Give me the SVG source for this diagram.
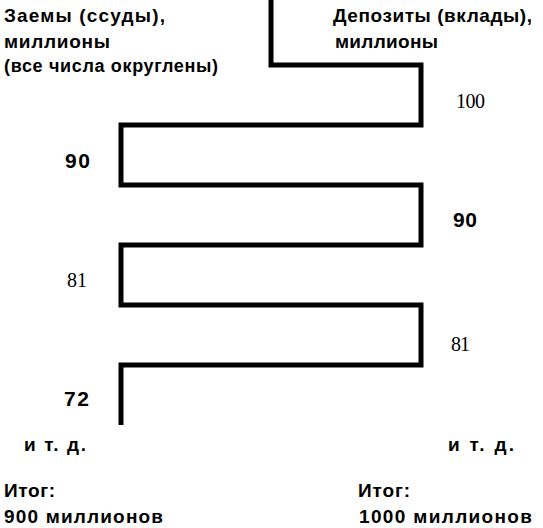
<svg xmlns="http://www.w3.org/2000/svg" width="543" height="528" viewBox="0 0 543 528">
<style>
.b{font-family:"Liberation Sans",Arial,sans-serif;font-weight:bold;fill:#000}
.s{font-family:"Liberation Serif","Times New Roman",serif;fill:#000}
.line{fill:none;stroke:#000;stroke-width:5;stroke-linejoin:miter;stroke-linecap:butt}
</style>
<rect width="543" height="528" fill="#fff"/>
<g id="connectors">
<path class="line" d="M271,0 V65 H421 V125 H121 V185 H421 V245 H121 V305 H421 V365 H121 V425"/>
</g>
<g id="loans-header">
<text class="b" x="4" y="22" font-size="19" textLength="161" lengthAdjust="spacing">Заемы (ссуды),</text>
<text class="b" x="4" y="48" font-size="19" textLength="106" lengthAdjust="spacing">миллионы</text>
<text class="b" x="4" y="72" font-size="18" textLength="214" lengthAdjust="spacing">(все числа округлены)</text>
</g>
<g id="deposits-header">
<text class="b" x="333" y="22" font-size="19" textLength="199" lengthAdjust="spacing">Депозиты (вклады),</text>
<text class="b" x="335" y="48" font-size="19" textLength="103" lengthAdjust="spacing">миллионы</text>
</g>
<g id="deposit-100"><text class="s" x="456" y="108" font-size="20" textLength="29" lengthAdjust="spacing">100</text></g>
<g id="loan-90"><text class="b" x="65" y="168" font-size="21" textLength="25" lengthAdjust="spacing">90</text></g>
<g id="deposit-90"><text class="b" x="453" y="227" font-size="21" textLength="24" lengthAdjust="spacing">90</text></g>
<g id="loan-81"><text class="s" x="67" y="287" font-size="20" textLength="20" lengthAdjust="spacing">81</text></g>
<g id="deposit-81"><text class="s" x="451" y="351" font-size="20" textLength="19" lengthAdjust="spacing">81</text></g>
<g id="loan-72"><text class="b" x="64" y="406" font-size="21" textLength="25" lengthAdjust="spacing">72</text></g>
<g id="loans-etc"><text class="b" x="24" y="451" font-size="19" textLength="62" lengthAdjust="spacing">и т. д.</text></g>
<g id="deposits-etc"><text class="b" x="448" y="451" font-size="19" textLength="66" lengthAdjust="spacing">и т. д.</text></g>
<g id="loans-total">
<text class="b" x="4" y="497" font-size="19" textLength="51" lengthAdjust="spacing">Итог:</text>
<text class="b" x="4" y="523" font-size="19" textLength="159" lengthAdjust="spacing">900 миллионов</text>
</g>
<g id="deposits-total">
<text class="b" x="358" y="497" font-size="19" textLength="52" lengthAdjust="spacing">Итог:</text>
<text class="b" x="359" y="523" font-size="19" textLength="173" lengthAdjust="spacing">1000 миллионов</text>
</g>
</svg>
